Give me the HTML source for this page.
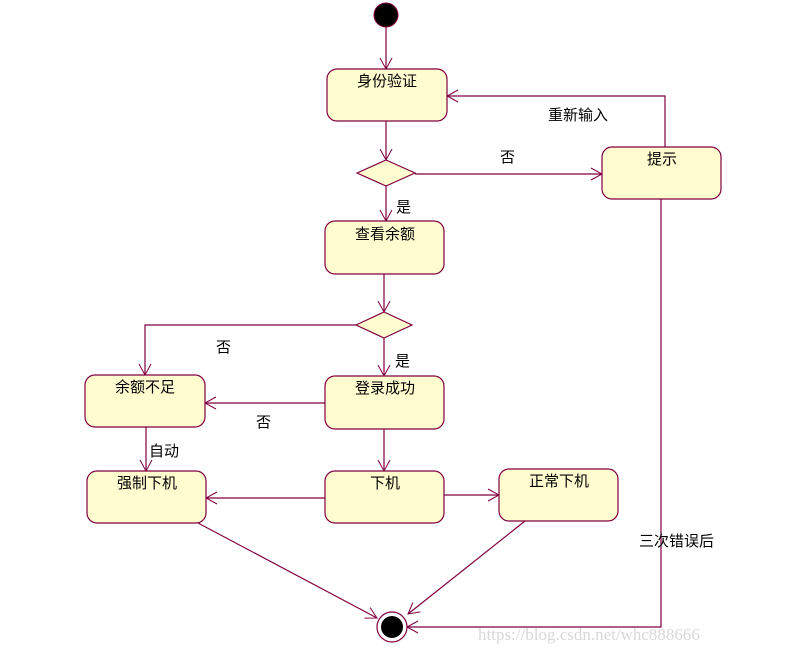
<!DOCTYPE html>
<html><head><meta charset="utf-8"><style>
html,body{margin:0;padding:0;background:#fff;}
svg{display:block;}
text{font-family:"Liberation Sans","Noto Sans CJK SC","WenQuanYi Zen Hei",sans-serif;font-size:15px;fill:#000;}
</style></head><body>
<svg width="798" height="653" viewBox="0 0 798 653" xmlns="http://www.w3.org/2000/svg">
<defs>
<marker id="a" markerWidth="14" markerHeight="14" refX="12" refY="7" orient="auto" markerUnits="userSpaceOnUse">
<path d="M1,1 L12,7 L1,13" fill="none" stroke="#800040" stroke-width="1"/>
</marker>
</defs>
<g stroke="#800040" stroke-width="1.2" fill="none">
<line x1="386" y1="27" x2="386" y2="69" marker-end="url(#a)"/>
<line x1="386" y1="121" x2="386" y2="160" marker-end="url(#a)"/>
<line x1="415" y1="174" x2="602" y2="174" marker-end="url(#a)"/>
<polyline points="665,147 665,96 447,96" marker-end="url(#a)"/>
<line x1="386" y1="186" x2="386" y2="221" marker-end="url(#a)"/>
<line x1="384" y1="274" x2="384" y2="312" marker-end="url(#a)"/>
<polyline points="356,325 145,325 145,375" marker-end="url(#a)"/>
<line x1="384" y1="338" x2="384" y2="376" marker-end="url(#a)"/>
<line x1="325" y1="403" x2="205" y2="403" marker-end="url(#a)"/>
<line x1="146" y1="427" x2="146" y2="471" marker-end="url(#a)"/>
<line x1="384" y1="429" x2="384" y2="471" marker-end="url(#a)"/>
<line x1="325" y1="498" x2="206" y2="498" marker-end="url(#a)"/>
<line x1="444" y1="495" x2="499" y2="495" marker-end="url(#a)"/>
<line x1="198" y1="523" x2="377" y2="618" marker-end="url(#a)"/>
<line x1="525" y1="521" x2="408" y2="614" marker-end="url(#a)"/>
<polyline points="661,199 661,627 407,627" marker-end="url(#a)"/>
</g>
<g fill="#fffcd0" stroke="#800040" stroke-width="1.2">
<rect x="327" y="69" width="120" height="52" rx="10"/>
<rect x="602" y="147" width="119" height="52" rx="10"/>
<rect x="325" y="221" width="119" height="53" rx="10"/>
<rect x="85" y="375" width="120" height="52" rx="10"/>
<rect x="325" y="376" width="119" height="53" rx="10"/>
<rect x="87" y="471" width="119" height="52" rx="10"/>
<rect x="325" y="471" width="119" height="52" rx="10"/>
<rect x="499" y="469" width="119" height="52" rx="10"/>
<polygon points="357,173 386,160 415,173 386,186"/>
<polygon points="356,325 384,312 412,325 384,338"/>
</g>
<circle cx="386" cy="15" r="12" fill="#000" stroke="#800040"/>
<circle cx="392" cy="627" r="15" fill="#fff" stroke="#800040" stroke-width="1.2"/>
<circle cx="392" cy="627" r="11" fill="#000"/>
<text x="387" y="86" text-anchor="middle">身份验证</text>
<text x="662" y="164" text-anchor="middle">提示</text>
<text x="385" y="239" text-anchor="middle">查看余额</text>
<text x="145" y="392" text-anchor="middle">余额不足</text>
<text x="385" y="393" text-anchor="middle">登录成功</text>
<text x="147" y="488" text-anchor="middle">强制下机</text>
<text x="385" y="488" text-anchor="middle">下机</text>
<text x="559" y="486" text-anchor="middle">正常下机</text>
<text x="548" y="120">重新输入</text>
<text x="500" y="162">否</text>
<text x="396" y="212">是</text>
<text x="216" y="352">否</text>
<text x="395" y="366">是</text>
<text x="256" y="427">否</text>
<text x="149" y="456">自动</text>
<text x="639" y="546">三次错误后</text>
<text x="478" y="640" style="font-family:'Liberation Serif',serif;font-size:17px;fill:#d8d8d8;">https://blog.csdn.net/whc888666</text>
</svg>
</body></html>
